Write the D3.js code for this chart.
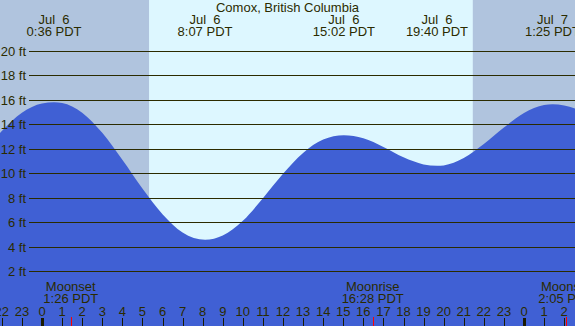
<!DOCTYPE html>
<html>
<head>
<meta charset="utf-8">
<script src="https://cdn.jsdelivr.net/npm/d3@7"></script>
<style>
  body { margin: 0; background: #fff; }
  svg text { font-family: "Liberation Sans", Arial, sans-serif; font-size: 13px; fill: #2b2b00; white-space: pre; }
</style>
</head>
<body>
<svg id="chart" width="575" height="326"></svg>
<script>
var title = "Comox, British Columbia";

// tide height (ft) against hours since Jul 6 0:00 PDT
var tideHours = [-3, -2, -1, 0, 0.6, 1, 2, 3, 4, 5, 6, 7, 8.12, 9, 10, 11, 12, 13, 14, 15.03,
                 16, 17, 18, 19, 19.67, 20, 21, 22, 23, 24, 25, 25.42, 26, 27];
var tideFeet = [11.5, 13.45, 14.95, 15.7, 15.8, 15.75, 14.95, 13.3, 11.1, 8.75, 6.65, 5.15, 4.55, 4.9, 6.1, 7.95, 9.95, 11.65, 12.75, 13.1,
                12.85, 12.15, 11.3, 10.72, 10.6, 10.64, 11.24, 12.38, 13.74, 14.93, 15.58, 15.65, 15.55, 15.0];

// high / low tide labels
var extremeHours = [0.6, 8.117, 15.033, 19.667, 25.417];
var extremeDates = ["Jul  6", "Jul  6", "Jul  6", "Jul  6", "Jul  7"];
var extremeTimes = ["0:36 PDT", "8:07 PDT", "15:02 PDT", "19:40 PDT", "1:25 PDT"];

// daylight
var sunrise = 5.33, sunset = 21.45;

// moon events
var moonHours = [1.433, 16.467, 26.083];
var moonNames = ["Moonset", "Moonrise", "Moonset"];
var moonTimes = ["1:26 PDT", "16:28 PDT", "2:05 PDT"];

var feetTicks = [2, 4, 6, 8, 10, 12, 14, 16, 18, 20];
var hourTicks = d3.range(-2, 27);

var W = 575, H = 326;
var svg = d3.select("#chart");

var x = d3.scaleLinear().domain([0, 24]).range([42, 524]);
var y = d3.scaleLinear().domain([0, 20]).range([295.4, 51]);

/* background: night and day */
svg.append("rect").attr("x", 0).attr("y", 0).attr("width", W).attr("height", H).attr("fill", "#b0c4de");
svg.append("rect")
   .attr("x", x(sunrise)).attr("y", 0)
   .attr("width", x(sunset) - x(sunrise)).attr("height", H)
   .attr("fill", "#ddf7ff");

/* tide area */
var tide = tideHours.map(function(h, i) { return [h, tideFeet[i]]; });
var area = d3.area()
  .x(function(d) { return x(d[0]); })
  .y0(H)
  .y1(function(d) { return y(d[1]); })
  .curve(d3.curveMonotoneX);

svg.append("path").datum(tide).attr("d", area).attr("fill", "#4060d4");

/* grid lines + feet labels */
var grid = svg.append("g");
grid.selectAll("line").data(feetTicks).enter().append("line")
    .attr("x1", 29).attr("x2", W)
    .attr("y1", function(d) { return Math.round(y(d)) + 0.5; })
    .attr("y2", function(d) { return Math.round(y(d)) + 0.5; })
    .attr("stroke", "#2b2b00").attr("stroke-width", 1);
grid.selectAll("text").data(feetTicks).enter().append("text")
    .attr("x", 26).attr("y", function(d) { return Math.round(y(d)) + 5; })
    .attr("text-anchor", "end")
    .text(function(d) { return d + " ft"; });

/* title */
svg.append("text").attr("x", 287.5).attr("y", 12).attr("text-anchor", "middle").text(title);

/* extreme labels */
var ext = svg.append("g").selectAll("g").data(extremeHours).enter().append("g");
ext.append("text").attr("x", function(d) { return x(d); }).attr("y", 24)
   .attr("text-anchor", "middle").text(function(d, i) { return extremeDates[i]; });
ext.append("text").attr("x", function(d) { return x(d); }).attr("y", 36)
   .attr("text-anchor", "middle").text(function(d, i) { return extremeTimes[i]; });

/* moon labels */
var moon = svg.append("g").selectAll("g").data(moonHours).enter().append("g");
moon.append("text").attr("x", function(d) { return x(d); }).attr("y", 291)
    .attr("text-anchor", "middle").text(function(d, i) { return moonNames[i]; });
moon.append("text").attr("x", function(d) { return x(d); }).attr("y", 303)
    .attr("text-anchor", "middle").text(function(d, i) { return moonTimes[i]; });

/* hour axis */
var hours = svg.append("g");
hours.selectAll("line").data(hourTicks).enter().append("line")
     .attr("x1", function(d) { return Math.round(x(d)) + 0.5; })
     .attr("x2", function(d) { return Math.round(x(d)) + 0.5; })
     .attr("y1", 318).attr("y2", H)
     .attr("stroke", "#1a1a00")
     .attr("stroke-width", function(d) { return (d % 24 === 0) ? 3 : 1; });
hours.selectAll("text").data(hourTicks).enter().append("text")
     .attr("x", function(d) { return x(d); }).attr("y", 316)
     .attr("text-anchor", "middle")
     .text(function(d) { return (d + 24) % 24; });

svg.append("g").selectAll("line").data(moonHours).enter().append("line")
   .attr("x1", function(d) { return Math.round(x(d)) + 0.5; })
   .attr("x2", function(d) { return Math.round(x(d)) + 0.5; })
   .attr("y1", 317).attr("y2", H)
   .attr("stroke", "#ff0000").attr("stroke-width", 1);
</script>
</body>
</html>
